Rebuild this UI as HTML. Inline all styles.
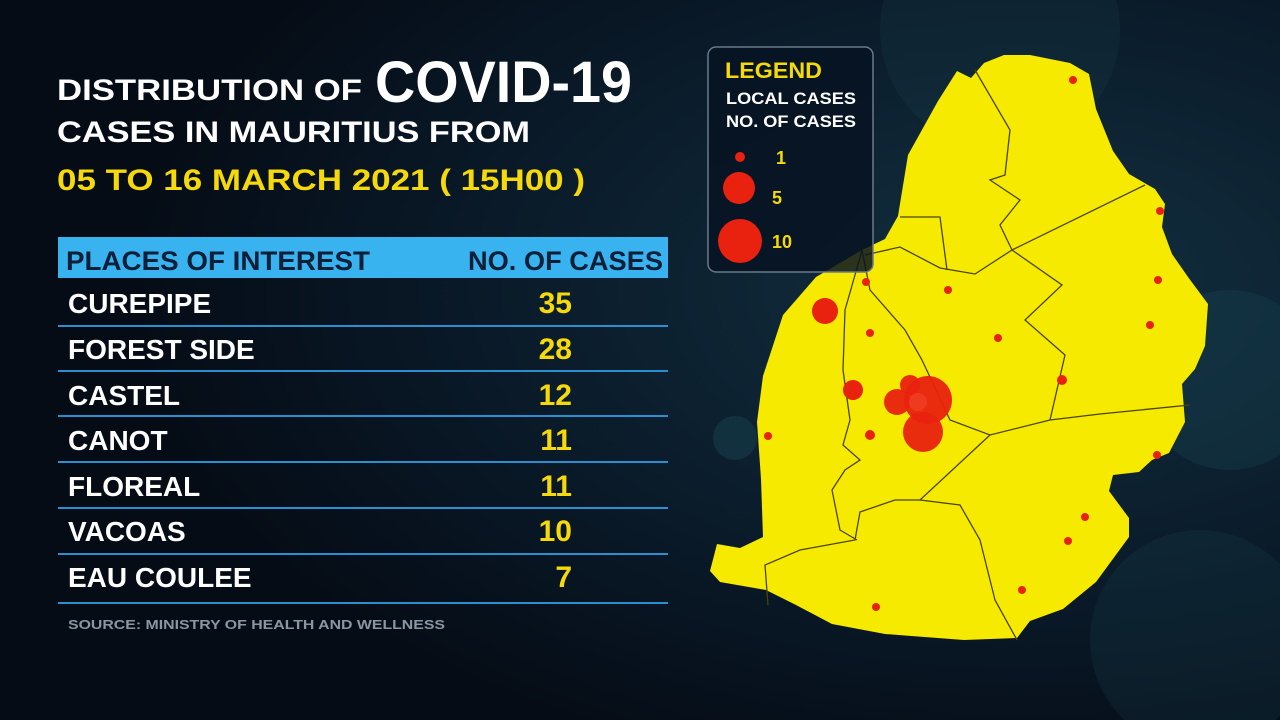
<!DOCTYPE html>
<html><head><meta charset="utf-8"><style>
html,body{margin:0;padding:0;background:#08121f;}
svg{display:block}
text{font-family:"Liberation Sans",sans-serif;font-weight:bold}
</style></head><body>
<svg width="1280" height="720" viewBox="0 0 1280 720" xmlns="http://www.w3.org/2000/svg">
<defs>
<radialGradient id="bg" cx="0.8" cy="0.4" r="0.7">
<stop offset="0" stop-color="#123040"/><stop offset="0.6" stop-color="#0a1a29"/><stop offset="1" stop-color="#050c16"/>
</radialGradient>
</defs>
<rect width="1280" height="720" fill="url(#bg)"/>
<circle cx="1230" cy="380" r="90" fill="#1b4a55" opacity="0.3"/>
<circle cx="1000" cy="30" r="120" fill="#1d4552" opacity="0.2"/>
<circle cx="1200" cy="640" r="110" fill="#17404b" opacity="0.25"/>
<circle cx="735" cy="438" r="22" fill="#1b4a55" opacity="0.4"/>

<text x="57" y="100" font-size="30" fill="#fff" textLength="305" lengthAdjust="spacingAndGlyphs">DISTRIBUTION OF</text>
<text x="375" y="102" font-size="58" fill="#fff" textLength="257" lengthAdjust="spacingAndGlyphs">COVID-19</text>
<text x="57" y="142" font-size="30" fill="#fff" textLength="473" lengthAdjust="spacingAndGlyphs">CASES IN MAURITIUS FROM</text>
<text x="57" y="190" font-size="30" fill="#f5d90a" textLength="528" lengthAdjust="spacingAndGlyphs">05 TO 16 MARCH 2021 ( 15H00 )</text>

<rect x="58" y="237" width="610" height="41" fill="#39b3ef"/>
<text x="66" y="270" font-size="27" fill="#0b2038" font-weight="normal" textLength="304" lengthAdjust="spacingAndGlyphs">PLACES OF INTEREST</text>
<text x="468" y="270" font-size="27" fill="#0b2038" font-weight="normal" textLength="195" lengthAdjust="spacingAndGlyphs">NO. OF CASES</text>

<g font-size="28" fill="#fff">
<text x="68" y="313">CUREPIPE</text>
<text x="68" y="359">FOREST SIDE</text>
<text x="68" y="405">CASTEL</text>
<text x="68" y="450">CANOT</text>
<text x="68" y="496">FLOREAL</text>
<text x="68" y="541">VACOAS</text>
<text x="68" y="587">EAU COULEE</text>
</g>
<g font-size="30" fill="#f5d90a" text-anchor="end">
<text x="572" y="313">35</text>
<text x="572" y="359">28</text>
<text x="572" y="405">12</text>
<text x="572" y="450">11</text>
<text x="572" y="496">11</text>
<text x="572" y="541">10</text>
<text x="572" y="587">7</text>
</g>
<g stroke="#2a8fd0" stroke-width="2">
<line x1="58" y1="326" x2="668" y2="326"/>
<line x1="58" y1="371" x2="668" y2="371"/>
<line x1="58" y1="416" x2="668" y2="416"/>
<line x1="58" y1="462" x2="668" y2="462"/>
<line x1="58" y1="508" x2="668" y2="508"/>
<line x1="58" y1="554" x2="668" y2="554"/>
<line x1="58" y1="603" x2="668" y2="603"/>
</g>
<text x="68" y="629" font-size="13" fill="#8a96a3" textLength="377" lengthAdjust="spacingAndGlyphs">SOURCE: MINISTRY OF HEALTH AND WELLNESS</text>

<polygon fill="#f6ea00" points="957,71 971,78 984,63 1004,55 1030,55 1070,63 1089,74 1096,109 1113,151 1129,174 1155,189 1165,204 1162,227 1172,254 1188,277 1208,304 1205,346 1195,369 1182,384 1185,422 1169,453 1152,460 1139,472 1113,475 1109,491 1129,518 1129,537 1096,582 1063,609 1030,621 1017,638 964,640 885,634 832,624 796,605 766,590 720,582 710,571 717,544 740,548 763,537 761,479 757,422 763,376 783,315 816,277 862,250 885,239 898,216 908,155 938,101"/>
<g fill="none" stroke="#4a4400" stroke-width="1.3">
<polyline points="975,70 1010,130 1005,175 990,180 1020,200 1000,225 1012,250 1145,185"/>
<polyline points="865,255 900,247 940,268 975,274 1012,250"/>
<polyline points="900,217 940,217 947,270"/>
<polyline points="1012,250 1062,285 1025,320 1065,355 1050,420"/>
<polyline points="1050,420 1100,414 1190,405"/>
<polyline points="862,250 870,290 905,330 922,360 950,420 990,435 1050,420"/>
<polyline points="990,435 920,500 895,500 860,512 855,540 800,550 765,565 768,605"/>
<polyline points="920,500 960,505 980,540 995,600 1017,640"/>
<polyline points="862,250 855,275 845,310 843,370 850,420 843,445 860,460 845,470 832,490 840,530 857,540"/>
</g>
<g fill="#e8220f">
<circle cx="1073" cy="80" r="4"/><circle cx="1160" cy="211" r="4"/><circle cx="1158" cy="280" r="4"/>
<circle cx="1150" cy="325" r="4"/><circle cx="1062" cy="380" r="5"/><circle cx="998" cy="338" r="4"/>
<circle cx="948" cy="290" r="4"/><circle cx="866" cy="282" r="4"/><circle cx="870" cy="333" r="4"/>
<circle cx="768" cy="436" r="4"/><circle cx="870" cy="435" r="5"/><circle cx="1157" cy="455" r="4"/>
<circle cx="1085" cy="517" r="4"/><circle cx="1068" cy="541" r="4"/><circle cx="1022" cy="590" r="4"/>
<circle cx="876" cy="607" r="4"/>
<circle cx="825" cy="311" r="13"/><circle cx="853" cy="390" r="10"/>
<circle cx="928" cy="400" r="24" opacity="0.95"/><circle cx="923" cy="432" r="20" opacity="0.95"/>
<circle cx="897" cy="402" r="13" opacity="0.95"/><circle cx="910" cy="385" r="10" opacity="0.95"/>
<circle cx="918" cy="402" r="9" fill="#f03a20"/>
</g>

<rect x="708" y="47" width="165" height="225" rx="8" fill="#071322" fill-opacity="0.85" stroke="#6a7a8a" stroke-width="1.5"/>
<text x="725" y="78" font-size="22" fill="#f5d90a" textLength="97" lengthAdjust="spacingAndGlyphs">LEGEND</text>
<text x="726" y="104" font-size="17" fill="#fff" textLength="130" lengthAdjust="spacingAndGlyphs">LOCAL CASES</text>
<text x="726" y="127" font-size="17" fill="#fff" textLength="130" lengthAdjust="spacingAndGlyphs">NO. OF CASES</text>
<circle cx="740" cy="157" r="5" fill="#e8220f"/>
<circle cx="739" cy="188" r="16" fill="#e8220f"/>
<circle cx="740" cy="241" r="22" fill="#e8220f"/>
<text x="776" y="164" font-size="18" fill="#f5d90a">1</text>
<text x="772" y="204" font-size="18" fill="#f5d90a">5</text>
<text x="772" y="248" font-size="18" fill="#f5d90a">10</text>
</svg>
</body></html>
